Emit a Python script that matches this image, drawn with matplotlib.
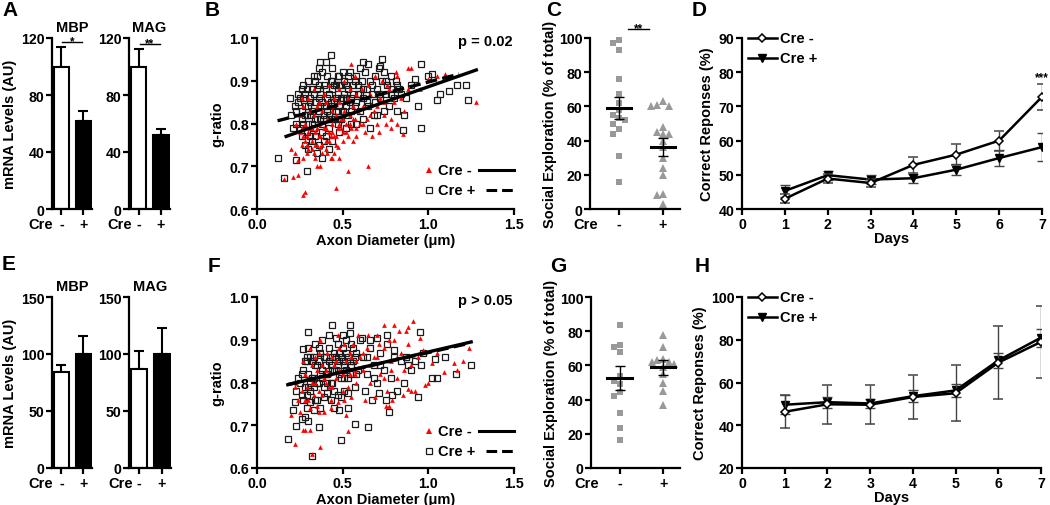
import numpy as np
import matplotlib
matplotlib.use("Agg")
import matplotlib.pyplot as plt

plt.rcParams['font.family'] = ['Liberation Sans', 'DejaVu Sans']
plt.rcParams['font.weight'] = 'bold'
plt.rcParams['axes.labelweight'] = 'bold'
plt.rcParams['axes.titleweight'] = 'bold'
plt.rcParams['font.size'] = 10.5
plt.rcParams['axes.labelsize'] = 10.5
plt.rcParams['axes.linewidth'] = 1.6
for _a in ('xtick', 'ytick'):
    plt.rcParams[f'{_a}.major.width'] = 1.6
    plt.rcParams[f'{_a}.major.size'] = 4
    plt.rcParams[f'{_a}.major.pad'] = 1.5
    plt.rcParams[f'{_a}.labelsize'] = 10.2
    plt.rcParams[f'{_a}.direction'] = 'out'

# ---------------- data ----------------
cre_labels = ['-', '+']
genes = ['MBP', 'MAG']

# A / E : mRNA levels (mean, sem) for Cre-, Cre+
a_mbp_mean = [100, 62]
a_mbp_sem = [14, 7]
a_mag_mean = [100, 52]
a_mag_sem = [12, 4]
e_mbp_mean = [84, 100]
e_mbp_sem = [6.5, 15.5]
e_mag_mean = [87, 100]
e_mag_sem = [15.5, 23]

# C / G : social exploration (% of total)
c_minus_vals = [99, 97, 93, 76, 67, 62, 58, 55, 53, 52, 50, 47, 44, 31, 16]
c_plus_vals = [63, 61, 60, 60, 48, 45, 44, 44, 40, 36, 30, 24, 20, 9, 8, 3]
c_mean = [59.1, 36.2]
c_sem = [6.6, 5.2]
g_minus_vals = [83.5, 72, 70.8, 67.7, 54, 51, 49, 44.7, 42, 32, 23.5, 16.5]
g_plus_vals = [78, 71, 64, 63, 62, 62, 61, 59, 55, 50, 45, 37]
g_mean = [52.5, 58.8]
g_sem = [7.0, 4.2]

# D / H : correct responses (%) over days
days = [1, 2, 3, 4, 5, 6, 7]
d_minus_mean = [43.0, 48.9, 47.6, 52.9, 55.9, 60.0, 72.8]
d_minus_sem = [1.3, 1.3, 1.2, 2.3, 3.0, 2.9, 3.8]
d_plus_mean = [45.3, 49.9, 48.6, 49.0, 51.5, 54.9, 58.1]
d_plus_sem = [1.7, 1.3, 1.2, 1.3, 1.7, 2.3, 4.1]
h_minus_mean = [46.3, 49.8, 49.6, 53.2, 55.0, 69.3, 79.0]
h_minus_sem = [7.7, 9.1, 9.1, 10.5, 13.2, 17.0, 16.8]
h_plus_mean = [49.6, 50.8, 50.2, 53.6, 56.3, 70.3, 81.0]
h_plus_sem = [4.5, 2.5, 2.2, 2.8, 2.9, 3.3, 4.2]

# B / F : g-ratio vs axon diameter (x um, g-ratio)
b_cre_minus = [
    (0.25,0.78),(0.26,0.75),(0.27,0.72),(0.28,0.80),(0.29,0.77),(0.30,0.74),(0.31,0.79),(0.32,0.76),
    (0.33,0.82),(0.34,0.78),(0.35,0.75),(0.36,0.80),(0.37,0.77),(0.38,0.83),(0.39,0.79),(0.40,0.76),
    (0.41,0.81),(0.42,0.78),(0.43,0.84),(0.44,0.80),(0.45,0.77),(0.46,0.82),(0.47,0.79),(0.48,0.85),
    (0.49,0.81),(0.50,0.78),(0.51,0.83),(0.52,0.80),(0.53,0.86),(0.54,0.82),(0.55,0.79),(0.56,0.84),
    (0.57,0.81),(0.58,0.87),(0.59,0.83),(0.60,0.80),(0.27,0.84),(0.30,0.86),(0.33,0.88),(0.36,0.85),
    (0.39,0.87),(0.42,0.89),(0.45,0.86),(0.48,0.88),(0.51,0.90),(0.54,0.88),(0.57,0.91),(0.31,0.83),
    (0.35,0.84),(0.40,0.85),(0.44,0.83),(0.29,0.73),(0.32,0.74),(0.34,0.72),(0.37,0.745),(0.41,0.73),
    (0.44,0.72),(0.47,0.745),(0.40,0.79),(0.43,0.77),(0.46,0.75),(0.50,0.76),(0.53,0.77),(0.62,0.84),
    (0.64,0.81),(0.66,0.87),(0.68,0.83),(0.70,0.80),(0.72,0.86),(0.74,0.82),(0.76,0.89),(0.78,0.79),
    (0.80,0.85),(0.82,0.91),(0.84,0.86),(0.85,0.775),(0.86,0.83),(0.88,0.88),(0.90,0.93),(0.63,0.78),
    (0.67,0.77),(0.71,0.78),(0.75,0.80),(0.61,0.88),(0.65,0.89),(0.69,0.91),(0.73,0.90),(0.77,0.88),
    (0.81,0.92),(0.58,0.77),(0.56,0.76),(0.20,0.74),(0.22,0.73),(0.21,0.675),(0.24,0.68),(0.24,0.715),
    (0.27,0.633),(0.28,0.64),(0.35,0.70),(0.37,0.70),(0.46,0.65),(0.53,0.69),(0.65,0.70),(0.55,0.94),
    (0.88,0.93),(1.28,0.85),(1.00,0.905),(1.05,0.91),(0.95,0.88),(1.10,0.915),(0.48,0.72),(0.43,0.72),
    (0.16,0.67),(0.26,0.86),(0.23,0.80),(0.25,0.82),
    (0.26,0.79),(0.28,0.76),(0.30,0.78),(0.32,0.79),(0.34,0.75),(0.36,0.77),(0.38,0.75),(0.40,0.74),
    (0.42,0.76),(0.44,0.78),(0.46,0.77),(0.48,0.80),(0.50,0.81),(0.52,0.78),(0.54,0.80),(0.56,0.81),
    (0.58,0.79),(0.62,0.80),(0.66,0.82),(0.70,0.84),(0.74,0.85),(0.78,0.81),(0.82,0.80),(0.29,0.75),
    (0.33,0.73),(0.38,0.73),(0.45,0.73),(0.27,0.77),(0.35,0.79),(0.49,0.79),
]
b_cre_plus = [
    (0.25,0.86),(0.26,0.83),(0.27,0.80),(0.28,0.87),(0.29,0.78),(0.30,0.84),(0.31,0.82),(0.32,0.88),
    (0.33,0.79),(0.34,0.85),(0.35,0.91),(0.36,0.83),(0.37,0.87),(0.38,0.80),(0.39,0.89),(0.40,0.84),
    (0.41,0.86),(0.42,0.82),(0.43,0.90),(0.44,0.88),(0.45,0.85),(0.46,0.83),(0.47,0.87),(0.48,0.89),
    (0.49,0.81),(0.50,0.86),(0.51,0.90),(0.52,0.84),(0.53,0.88),(0.54,0.92),(0.55,0.86),(0.26,0.77),
    (0.28,0.75),(0.30,0.74),(0.32,0.76),(0.34,0.77),(0.36,0.75),(0.38,0.78),(0.40,0.77),(0.42,0.79),
    (0.44,0.76),(0.30,0.90),(0.33,0.91),(0.36,0.93),(0.38,0.92),(0.41,0.91),(0.44,0.93),(0.47,0.91),
    (0.50,0.92),(0.52,0.89),(0.27,0.89),(0.24,0.85),(0.22,0.84),(0.23,0.80),(0.20,0.82),(0.21,0.79),
    (0.19,0.86),(0.25,0.79),(0.29,0.82),(0.31,0.86),(0.35,0.81),(0.37,0.84),(0.39,0.82),(0.43,0.85),
    (0.45,0.81),(0.46,0.89),(0.48,0.84),(0.49,0.86),(0.53,0.82),(0.56,0.89),(0.57,0.84),(0.58,0.91),
    (0.59,0.87),(0.60,0.83),(0.61,0.90),(0.62,0.86),(0.63,0.92),(0.64,0.88),(0.65,0.84),(0.66,0.90),
    (0.67,0.87),(0.68,0.82),(0.69,0.91),(0.70,0.88),(0.71,0.93),(0.72,0.86),(0.73,0.90),(0.74,0.92),
    (0.75,0.87),(0.76,0.89),(0.77,0.84),(0.78,0.91),(0.79,0.88),(0.80,0.86),(0.81,0.90),(0.82,0.83),
    (0.83,0.88),(0.84,0.87),(0.85,0.785),(0.86,0.82),(0.87,0.86),(0.58,0.80),(0.62,0.81),(0.66,0.79),
    (0.70,0.82),(0.74,0.83),(0.60,0.93),(0.65,0.94),(0.73,0.95),(0.72,0.935),(0.12,0.72),(0.16,0.673),
    (0.23,0.715),(0.29,0.69),(0.37,0.945),(0.40,0.945),(0.43,0.96),(0.62,0.945),(0.94,0.84),(0.96,0.79),
    (0.96,0.94),(0.90,0.89),(0.92,0.905),(1.00,0.91),(1.02,0.915),(1.05,0.855),(1.07,0.87),(1.12,0.875),
    (1.17,0.89),(1.22,0.89),(1.23,0.855),(0.35,0.73),(0.38,0.72),(0.42,0.74),(0.48,0.78),(0.52,0.79),
    (0.55,0.80),
    (0.23,0.83),(0.24,0.87),(0.26,0.81),(0.27,0.86),(0.28,0.82),(0.29,0.88),(0.30,0.80),(0.31,0.85),
    (0.32,0.83),(0.33,0.87),(0.34,0.81),(0.35,0.88),(0.36,0.86),(0.37,0.81),(0.38,0.85),(0.39,0.84),
    (0.40,0.88),(0.41,0.83),(0.42,0.87),(0.43,0.81),(0.44,0.84),(0.45,0.89),(0.46,0.86),(0.47,0.83),
    (0.48,0.81),(0.49,0.89),(0.50,0.83),(0.51,0.87),(0.52,0.86),(0.53,0.91),(0.54,0.85),(0.55,0.83),
    (0.56,0.87),(0.57,0.90),(0.58,0.85),(0.59,0.89),(0.60,0.87),(0.28,0.84),(0.32,0.80),(0.36,0.89),
    (0.40,0.81),(0.44,0.90),(0.48,0.91),(0.34,0.90),(0.26,0.88),(0.31,0.77),(0.39,0.76),(0.47,0.80),
    (0.62,0.88),(0.64,0.85),(0.67,0.89),(0.69,0.85),(0.71,0.87),(0.75,0.90),(0.78,0.87),(0.82,0.89),
]
f_cre_minus = [
    (0.26,0.78),(0.28,0.82),(0.30,0.76),(0.32,0.84),(0.34,0.80),(0.36,0.87),(0.38,0.77),(0.40,0.83),
    (0.42,0.79),(0.44,0.86),(0.46,0.81),(0.48,0.88),(0.50,0.78),(0.52,0.85),(0.54,0.82),(0.56,0.89),
    (0.58,0.80),(0.60,0.86),(0.27,0.85),(0.29,0.79),(0.31,0.88),(0.33,0.77),(0.35,0.83),(0.37,0.90),
    (0.39,0.81),(0.41,0.87),(0.43,0.76),(0.45,0.84),(0.47,0.91),(0.49,0.83),(0.51,0.89),(0.53,0.79),
    (0.55,0.86),(0.57,0.83),(0.59,0.91),(0.31,0.74),(0.35,0.745),(0.39,0.73),(0.43,0.74),(0.47,0.755),
    (0.51,0.76),(0.55,0.765),(0.52,0.725),(0.62,0.83),(0.64,0.88),(0.66,0.80),(0.68,0.86),(0.70,0.91),
    (0.72,0.82),(0.74,0.88),(0.76,0.78),(0.78,0.85),(0.80,0.90),(0.82,0.81),(0.84,0.87),(0.86,0.83),
    (0.88,0.89),(0.90,0.84),(0.92,0.78),(0.94,0.86),(0.63,0.76),(0.69,0.765),(0.75,0.745),(0.79,0.76),
    (0.85,0.77),(0.88,0.785),(0.90,0.78),(0.65,0.91),(0.71,0.89),(0.77,0.90),(0.83,0.92),(0.87,0.92),
    (0.22,0.655),(0.32,0.632),(0.37,0.65),(0.27,0.69),(0.28,0.69),(0.31,0.69),(0.20,0.725),(0.25,0.73),
    (0.36,0.73),(0.53,0.687),(0.74,0.935),(0.80,0.935),(0.91,0.943),(0.88,0.93),(1.00,0.80),(0.98,0.795),
    (1.15,0.845),(1.20,0.85),(1.24,0.88),(1.09,0.825),(1.17,0.83),(0.97,0.875),(1.05,0.87),(0.95,0.905),
    (1.02,0.845),(0.24,0.76),(0.23,0.80),(0.22,0.79),(0.77,0.745),(0.57,0.82),
    (0.30,0.81),(0.34,0.86),(0.38,0.84),(0.42,0.82),(0.46,0.85),(0.50,0.82),(0.54,0.87),(0.58,0.85),
    (0.62,0.87),(0.66,0.84),(0.70,0.86),(0.74,0.81),(0.78,0.83),(0.82,0.86),(0.40,0.80),(0.44,0.79),
    (0.48,0.83),(0.36,0.78),(0.32,0.80),(0.28,0.76),
]
f_cre_plus = [
    (0.25,0.80),(0.26,0.77),(0.27,0.83),(0.28,0.79),(0.29,0.86),(0.30,0.82),(0.31,0.78),(0.32,0.85),
    (0.33,0.81),(0.34,0.76),(0.35,0.84),(0.36,0.80),(0.37,0.87),(0.38,0.83),(0.39,0.79),(0.40,0.86),
    (0.41,0.82),(0.42,0.88),(0.43,0.84),(0.44,0.80),(0.45,0.87),(0.46,0.83),(0.47,0.89),(0.48,0.85),
    (0.49,0.81),(0.50,0.88),(0.51,0.84),(0.52,0.90),(0.53,0.86),(0.54,0.82),(0.55,0.89),(0.56,0.85),
    (0.57,0.79),(0.58,0.87),(0.59,0.83),(0.60,0.90),(0.27,0.76),(0.29,0.74),(0.31,0.755),(0.33,0.735),
    (0.35,0.76),(0.37,0.74),(0.39,0.765),(0.41,0.775),(0.43,0.76),(0.45,0.78),(0.47,0.77),(0.49,0.765),
    (0.51,0.78),(0.53,0.775),(0.30,0.88),(0.34,0.89),(0.38,0.90),(0.42,0.91),(0.46,0.905),(0.50,0.91),
    (0.54,0.915),(0.33,0.86),(0.36,0.88),(0.40,0.84),(0.44,0.86),(0.48,0.87),(0.52,0.83),(0.22,0.755),
    (0.23,0.78),(0.24,0.81),(0.21,0.735),(0.23,0.698),(0.26,0.715),(0.28,0.72),(0.30,0.71),(0.29,0.85),
    (0.27,0.878),(0.30,0.917),(0.31,0.86),(0.62,0.86),(0.64,0.82),(0.66,0.88),(0.68,0.84),(0.70,0.80),
    (0.72,0.87),(0.74,0.83),(0.76,0.89),(0.78,0.81),(0.80,0.86),(0.82,0.78),(0.84,0.85),(0.86,0.80),
    (0.88,0.84),(0.90,0.83),(0.63,0.78),(0.67,0.76),(0.71,0.775),(0.75,0.76),(0.79,0.77),(0.61,0.905),
    (0.66,0.90),(0.70,0.905),(0.76,0.91),(0.80,0.875),(0.77,0.73),(0.57,0.703),(0.65,0.697),(0.18,0.667),
    (0.32,0.627),(0.49,0.665),(0.36,0.695),(0.45,0.74),(0.48,0.735),(0.53,0.74),(0.94,0.765),(1.02,0.81),
    (1.05,0.81),(1.16,0.82),(1.25,0.84),(0.95,0.917),(0.44,0.935),(0.54,0.935),(0.92,0.85),(0.97,0.87),
    (1.04,0.855),(1.10,0.86),(0.87,0.86),(0.96,0.84),
    (0.26,0.82),(0.28,0.85),(0.30,0.79),(0.32,0.81),(0.34,0.84),(0.36,0.85),(0.38,0.81),(0.40,0.82),
    (0.42,0.85),(0.44,0.83),(0.46,0.86),(0.48,0.82),(0.50,0.85),(0.52,0.87),(0.54,0.85),(0.56,0.88),
    (0.58,0.82),(0.35,0.80),(0.39,0.86),(0.43,0.80),(0.47,0.84),(0.51,0.81),(0.55,0.84),(0.33,0.79),
    (0.37,0.82),(0.41,0.80),(0.45,0.83),(0.49,0.86),(0.53,0.81),(0.57,0.86),(0.64,0.86),(0.68,0.81),
    (0.72,0.84),(0.31,0.80),(0.29,0.77),
]
# linear fits: (slope, intercept, x_start, x_end)
b_fit_minus = (0.140, 0.746, 0.17, 1.28)
b_fit_plus = (0.103, 0.794, 0.12, 1.18)
f_fit_minus = (0.0935, 0.778, 0.18, 1.25)
f_fit_plus = (0.091, 0.779, 0.18, 1.22)
b_pval = 'p = 0.02'
f_pval = 'p > 0.05'

# ---------------- figure ----------------
W, H = 1050, 506
fig = plt.figure(figsize=(W / 100, H / 100), dpi=100)


def add_ax(l, t, r, b):
    ax = fig.add_axes([l / W, 1 - b / H, (r - l) / W, (b - t) / H])
    ax.spines[['top', 'right']].set_visible(False)
    return ax


def cre_text(ax, xfrac):
    ax.annotate('Cre', xy=(xfrac, 0), xycoords='axes fraction', xytext=(0, -5.5),
                textcoords='offset points', ha='right', va='top', annotation_clip=False)


def sig_mark(ax, x0, x1, yline, txt):
    ax.plot([x0, x1], [yline, yline], color='black', lw=1, clip_on=False)
    ax.annotate(txt, xy=((x0 + x1) / 2, yline), xytext=(0, -1.0), textcoords='offset points',
                ha='center', va='baseline', fontsize=8.5, annotation_clip=False)


def bar_panel(ax, means, sems, ymax, yticks, title, cre_x, ylabel=None, sig=None):
    x = np.arange(len(means))
    ax.bar(x, means, width=0.68, color=['white', 'black'], edgecolor='black',
           linewidth=1.5, zorder=2)
    ax.errorbar(x, means, yerr=[[0] * len(sems), sems], fmt='none', ecolor='black',
                elinewidth=1.5, capsize=3.5, capthick=1.5, zorder=1)
    ax.set_xlim(-0.43, 1.40)
    ax.set_ylim(0, ymax)
    ax.set_yticks(yticks)
    ax.set_xticks(x, cre_labels)
    ax.set_title(title, fontsize=10.5, pad=5)
    cre_text(ax, cre_x)
    if ylabel:
        ax.set_ylabel(ylabel, labelpad=3)
    if sig:
        sig_mark(ax, 0.05, 0.95, sig[1], sig[0])


def swarm_offsets(vals, ythr, dx):
    placed, offs = [], []
    for v in vals:
        for k in (0, -1, 1, -2, 2, -3, 3):
            o = k * dx
            if all(not (abs(v - pv) < ythr and abs(o - po) < dx * 0.9) for pv, po in placed):
                break
        placed.append((v, o))
        offs.append(o)
    return np.array(offs)


def dot_panel(ax, minus_vals, plus_vals, means, sems, sig=None):
    for i, (vals, mk, ms) in enumerate([(minus_vals, 's', 4.6), (plus_vals, '^', 6.0)]):
        offs = swarm_offsets(vals, 3.2, 0.13)
        ax.plot(i + offs, vals, ls='none', marker=mk, color='#999999', ms=ms,
                mew=0, clip_on=False, zorder=2)
        ax.plot([i - 0.28, i + 0.28], [means[i], means[i]], color='black', lw=2.2, zorder=3)
        ax.errorbar(i, means[i], yerr=sems[i], fmt='none', ecolor='black', elinewidth=1,
                    capsize=3.5, capthick=1, zorder=3)
    ax.set_xlim(-0.66, 1.39)
    ax.set_ylim(0, 100)
    ax.set_yticks(range(0, 101, 20))
    ax.set_xticks([0, 1], cre_labels)
    ax.set_ylabel('Social Exploration (% of total)', labelpad=1)
    cre_text(ax, 0.09)
    if sig:
        sig_mark(ax, 0.2, 0.68, sig[1], sig[0])


def scatter_panel(ax, minus_pts, plus_pts, fit_minus, fit_plus, ptxt, leg_y):
    pm = np.array(minus_pts)
    pp = np.array(plus_pts)
    ax.plot(pp[:, 0], pp[:, 1], ls='none', marker='s', ms=4.4, mfc='none', mec='#1a1a1a',
            mew=0.9, zorder=2)
    ax.plot(pm[:, 0], pm[:, 1], ls='none', marker='^', ms=3.4, color='red', mew=0, zorder=3)
    for (s, b0, x0, x1), ls in ((fit_minus, '-'), (fit_plus, (0, (3.5, 1.6)))):
        xs = np.array([x0, x1])
        ax.plot(xs, b0 + s * xs, color='black', lw=2.4, ls=ls, zorder=4)
    ax.set_xlim(0, 1.5)
    ax.set_ylim(0.6, 1.0)
    ax.set_xticks([0, 0.5, 1.0, 1.5], ['0.0', '0.5', '1.0', '1.5'])
    ax.set_yticks([0.6, 0.7, 0.8, 0.9, 1.0], ['0.6', '0.7', '0.8', '0.9', '1.0'])
    ax.set_xlabel('Axon Diameter (\u03bcm)', labelpad=2)
    ax.set_ylabel('g-ratio', labelpad=4)
    ax.text(0.995, 0.985, ptxt, transform=ax.transAxes, ha='right', va='center')
    y1, y2 = leg_y
    ax.plot([0.669], [y1], transform=ax.transAxes, marker='^', ms=3.8, color='red', mew=0,
            clip_on=False)
    ax.text(0.706, y1, 'Cre -', transform=ax.transAxes, va='center', ha='left')
    ax.plot([0.864, 1.0], [y1, y1], transform=ax.transAxes, color='black', lw=2.2, clip_on=False)
    ax.plot([0.669], [y2], transform=ax.transAxes, marker='s', ms=4.4, mfc='none',
            mec='#1a1a1a', mew=0.9, clip_on=False)
    ax.text(0.706, y2, 'Cre +', transform=ax.transAxes, va='center', ha='left')
    ax.plot([0.89, 1.0], [y2, y2], transform=ax.transAxes, color='black', lw=2.2,
            ls=(0, (3.5, 1.6)), clip_on=False)


def line_panel(ax, m_mean, m_sem, p_mean, p_sem, ylim, yticks, leg_y, ecolor):
    ax.errorbar(days, m_mean, yerr=m_sem, color='black', lw=1.8, marker='D', ms=4.4,
                mfc='white', mec='black', mew=1.1, ecolor=ecolor, elinewidth=1, capsize=3.5,
                capthick=1, zorder=4)
    ax.errorbar(days, p_mean, yerr=p_sem, color='black', lw=1.8, marker='v', ms=5.8,
                ecolor=ecolor, elinewidth=1, capsize=3.5, capthick=1, zorder=3)
    ax.set_xlim(0, 7)
    ax.set_ylim(*ylim)
    ax.set_xticks(range(0, 8))
    ax.set_yticks(yticks)
    ax.set_xlabel('Days', labelpad=0)
    ax.set_ylabel('Correct Reponses (%)', labelpad=3)
    for y, mk, lab, kw in ((leg_y[0], 'D', 'Cre -', dict(ms=4.4, mfc='white', mew=1.1)),
                           (leg_y[1], 'v', 'Cre +', dict(ms=5.8))):
        ax.plot([0.02, 0.117], [y, y], transform=ax.transAxes, color='black', lw=1.8,
                clip_on=False)
        ax.plot([0.068], [y], transform=ax.transAxes, marker=mk, color='black', mec='black',
                clip_on=False, **kw)
        ax.text(0.128, y, lab, transform=ax.transAxes, va='center', ha='left')


TOP = (39, 210)
BOT = (298, 469)

# A
ax = add_ax(52, TOP[0], 92, TOP[1])
bar_panel(ax, a_mbp_mean, a_mbp_sem, 120, [0, 40, 80, 120], genes[0], 0.03,
          ylabel='mRNA Levels (AU)', sig=('*', 117))
ax = add_ax(129, TOP[0], 170, TOP[1])
bar_panel(ax, a_mag_mean, a_mag_sem, 120, [0, 40, 80, 120], genes[1], 0.08, sig=('**', 115.5))

# E
ax = add_ax(52, BOT[0], 92, BOT[1])
bar_panel(ax, e_mbp_mean, e_mbp_sem, 150, [0, 50, 100, 150], genes[0], 0.03,
          ylabel='mRNA Levels (AU)')
ax = add_ax(129, BOT[0], 171, BOT[1])
bar_panel(ax, e_mag_mean, e_mag_sem, 150, [0, 50, 100, 150], genes[1], 0.09)

# B / F
ax = add_ax(257, TOP[0], 514, TOP[1])
scatter_panel(ax, b_cre_minus, b_cre_plus, b_fit_minus, b_fit_plus, b_pval, (0.228, 0.111))
ax = add_ax(257, BOT[0], 514, BOT[1])
scatter_panel(ax, f_cre_minus, f_cre_plus, f_fit_minus, f_fit_plus, f_pval, (0.216, 0.099))

# C / G
ax = add_ax(590, TOP[0], 680, TOP[1])
dot_panel(ax, c_minus_vals, c_plus_vals, c_mean, c_sem, sig=('**', 105))
ax = add_ax(591, BOT[0], 680, BOT[1])
dot_panel(ax, g_minus_vals, g_plus_vals, g_mean, g_sem)

# D / H
ax = add_ax(742, TOP[0], 1042, TOP[1])
line_panel(ax, d_minus_mean, d_minus_sem, d_plus_mean, d_plus_sem, (40, 90),
           range(40, 91, 10), (1.0, 0.883), '#444444')
ax.text(7, 78.5, '***', ha='center', va='center', fontsize=8.5)
ax = add_ax(742, BOT[0], 1041, BOT[1])
line_panel(ax, h_minus_mean, h_minus_sem, h_plus_mean, h_plus_sem, (20, 100),
           range(20, 101, 20), (1.0, 0.883), '#444444')

# panel letters
for lab, x, y in (('A', 2, 1), ('B', 205, 1), ('C', 546, 1), ('D', 692, 1),
                  ('E', 2, 255), ('F', 208, 257), ('G', 550, 257), ('H', 695, 257)):
    fig.text(x / W, 1 - y / H, lab, fontsize=15, fontweight='bold', ha='left', va='top')

fig.savefig('out.png', dpi=100)
